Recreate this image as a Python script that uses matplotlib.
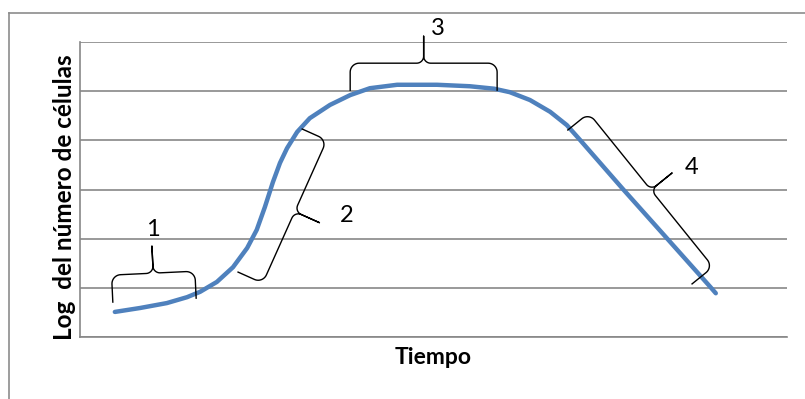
import numpy as np
import matplotlib
matplotlib.use('Agg')
import matplotlib.pyplot as plt
from matplotlib.lines import Line2D

# growth curve (time, log number of cells)
tiempo = [0.69, 1.19, 1.72, 2.12, 2.38, 2.71, 3.03, 3.31, 3.50, 3.66, 3.82, 3.96,
          4.10, 4.30, 4.55, 4.95, 5.35, 5.74, 6.28, 7.07, 7.72, 8.20, 8.51, 8.91,
          9.31, 9.64, 9.90, 10.75, 11.62, 12.48, 12.59]
log_celulas = [0.51, 0.59, 0.69, 0.81, 0.92, 1.12, 1.42, 1.81, 2.18, 2.64, 3.15, 3.54,
               3.84, 4.17, 4.45, 4.72, 4.92, 5.06, 5.13, 5.13, 5.10, 5.05, 4.98, 4.82,
               4.58, 4.31, 4.01, 3.01, 2.01, 1.02, 0.89]

# phase braces: start point, end point, side of the tip, label and label position
fases = ['1', '2', '3', '4']
brace_start = [(0.65, 0.71), (3.13, 1.32), (5.35, 5.02), (9.66, 4.21)]
brace_end = [(2.30, 0.79), (4.40, 4.23), (8.26, 5.02), (12.12, 1.08)]
brace_side = [1, -1, 1, 1]
label_pos = [(1.45, 2.18), (5.29, 2.48), (7.09, 6.28), (12.12, 3.44)]

W, H = 805, 399
fig = plt.figure(figsize=(W / 100, H / 100), dpi=100)
ax = fig.add_axes([80 / W, (H - 337) / H, 707 / W, 295 / H])
ax.set_xlim(0, 14)
ax.set_ylim(0, 6)

grid_col = '#878787'
ax.set_yticks(range(7))
ax.set_xticks([])
ax.tick_params(left=False, labelleft=False)
ax.grid(axis='y', color=grid_col, lw=1.2)
for s in ['top', 'right']:
    ax.spines[s].set_visible(False)
for s in ['left', 'bottom']:
    ax.spines[s].set_color(grid_col)
    ax.spines[s].set_linewidth(1.2)

ax.plot(tiempo, log_celulas, color='#4F81BD', lw=3.2, solid_capstyle='round',
        solid_joinstyle='round', zorder=3)


def arc(cx, cy, r, a0, a1, n=12):
    a = np.linspace(a0, a1, n)
    return list(zip(cx + r * np.cos(a), cy + r * np.sin(a)))


def brace(p0, p1, side, h=54, r=9, rt=7):
    # build the brace in pixels, then map back to data
    d0 = ax.transData.transform(p0)
    d1 = ax.transData.transform(p1)
    v = d1 - d0
    L = np.hypot(*v)
    u = v / L
    n = np.array([-u[1], u[0]]) * side
    hb = h / 2
    m = L / 2
    pts = [(0, 0)]
    pts += arc(r, hb - r, r, np.pi, np.pi / 2)
    pts += arc(m - rt, hb + rt, rt, -np.pi / 2, 0)
    pts += [(m, h)]
    pts += arc(m + rt, hb + rt, rt, np.pi, 3 * np.pi / 2)
    pts += arc(L - r, hb - r, r, np.pi / 2, 0)
    pts += [(L, 0)]
    pts = np.array(pts)
    disp = d0 + np.outer(pts[:, 0], u) + np.outer(pts[:, 1], n)
    dat = ax.transData.inverted().transform(disp)
    ax.plot(dat[:, 0], dat[:, 1], color='black', lw=1.0, clip_on=False, zorder=4)


for lab, a, b, sd, pos in zip(fases, brace_start, brace_end, brace_side, label_pos):
    brace(a, b, sd)
    ax.text(pos[0], pos[1], lab, fontsize=17, family='Lato', ha='center', va='center',
            clip_on=False)

ax.set_xlabel('Tiempo', fontsize=16.5, family='Lato', fontweight='bold', labelpad=7)
ax.set_ylabel('Log  del número de células', fontsize=17.5, family='Lato',
              fontweight='bold', labelpad=3, y=0.475)

# outer chart frame
fig.add_artist(Line2D([9 / W, 1], [1 - 13 / H] * 2, color='#8c8c8c', lw=1.2))
fig.add_artist(Line2D([9 / W] * 2, [0, 1 - 13 / H], color='#8c8c8c', lw=1.2))

fig.savefig('out.png', dpi=100)
